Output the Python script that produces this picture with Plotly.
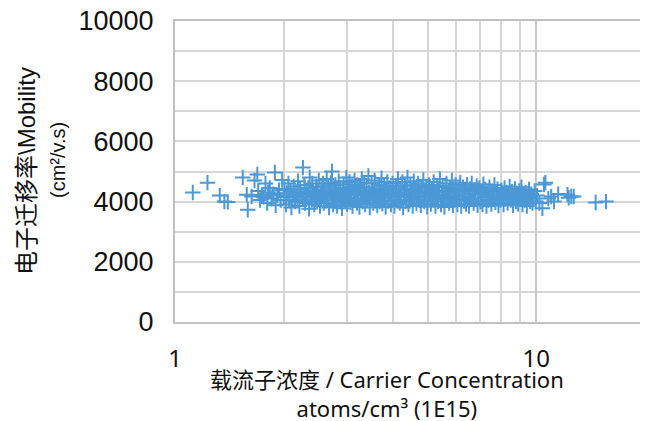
import plotly.graph_objects as go

# Carrier concentration (x 1E15 atoms/cm^3) and electron mobility (cm^2/V.s)
conc = [
    1.12, 1.23, 1.33, 1.37, 1.40, 1.54, 1.58, 1.59, 1.63, 1.66, 1.69, 1.70, 1.72, 1.74, 1.76, 1.78, 1.80, 1.81,
    1.83, 1.85, 1.87, 1.89, 1.90, 1.92, 1.94, 1.96, 1.98,
    2.00, 2.01, 2.03, 2.04, 2.06, 2.07, 2.09, 2.10, 2.12, 2.13, 2.15, 2.16, 2.18, 2.19, 2.21, 2.22, 2.24, 2.26,
    2.26, 2.28, 2.29, 2.31, 2.32, 2.34, 2.35, 2.36, 2.37, 2.39, 2.40, 2.41, 2.43, 2.44, 2.46, 2.47, 2.48, 2.50,
    2.51, 2.52, 2.54, 2.55, 2.57, 2.58, 2.60, 2.61, 2.63, 2.64, 2.66, 2.67, 2.69, 2.70, 2.72, 2.72, 2.74, 2.75,
    2.77, 2.78, 2.80, 2.81, 2.83, 2.84, 2.86, 2.87, 2.89, 2.90, 2.92, 2.93, 2.95, 2.96, 2.98, 2.99, 3.01, 3.03,
    3.04, 3.06, 3.07, 3.09, 3.10, 3.12, 3.14, 3.15, 3.17, 3.19,
    3.20, 3.22, 3.24, 3.25, 3.27, 3.29, 3.30, 3.32, 3.34, 3.36, 3.37, 3.39, 3.41, 3.43, 3.44, 3.46, 3.48, 3.50,
    3.52, 3.54, 3.55, 3.57, 3.59, 3.61, 3.63, 3.65, 3.67, 3.69, 3.71, 3.73, 3.75, 3.77, 3.79, 3.81, 3.83, 3.85,
    3.87, 3.89, 3.91, 3.93, 3.96, 3.98,
    4.00, 4.02, 4.05, 4.07, 4.09, 4.12, 4.14, 4.16, 4.19, 4.21, 4.23, 4.26, 4.28, 4.30, 4.33, 4.35, 4.38, 4.40,
    4.43, 4.45, 4.48, 4.50, 4.53, 4.55, 4.58, 4.60, 4.63, 4.66, 4.68, 4.71, 4.74, 4.76, 4.79, 4.82, 4.85, 4.87,
    4.90, 4.93, 4.96, 4.99,
    5.02, 5.05, 5.08, 5.11, 5.14, 5.17, 5.20, 5.23, 5.26, 5.29, 5.32, 5.35, 5.38, 5.41, 5.45, 5.48, 5.51, 5.54,
    5.57, 5.61, 5.64, 5.67, 5.71, 5.74, 5.77, 5.81, 5.84, 5.88, 5.91, 5.95, 5.98, 6.02, 6.05, 6.09, 6.13, 6.16,
    6.20, 6.24, 6.27,
    6.31, 6.35, 6.39, 6.43, 6.47, 6.51, 6.55, 6.59, 6.63, 6.67, 6.71, 6.75, 6.79, 6.84, 6.88, 6.92, 6.96, 7.01,
    7.05, 7.10, 7.14, 7.19, 7.23, 7.28, 7.32, 7.37, 7.42, 7.46, 7.51, 7.56, 7.61, 7.66, 7.71, 7.76, 7.81, 7.86,
    7.91, 7.96,
    8.01, 8.06, 8.12, 8.17, 8.22, 8.28, 8.33, 8.39, 8.44, 8.50, 8.56, 8.62, 8.67, 8.73, 8.79, 8.85, 8.91, 8.97,
    9.03, 9.10, 9.16, 9.22, 9.29, 9.35, 9.42, 9.48, 9.55, 9.62, 9.69, 9.76, 9.83, 9.90, 9.97,
    10.05, 10.2, 10.4, 10.5, 10.6, 10.8, 11.0, 11.2, 11.5, 12.2, 12.3, 12.5, 12.7, 14.6, 15.6,
]

mobility = [
    4300, 4630, 4200, 4000, 3990, 4800, 4230, 3730, 4170, 4700, 4900, 4350, 4050, 4220, 4150, 4600, 3950, 4300,
    4450, 4100, 4250, 4970, 3880, 4200, 4380, 4050, 4720,
    4150, 4420, 3900, 4280, 4600, 4050, 4350, 3800, 4200, 4500, 4000, 4320, 4150, 4680, 3850, 4400, 4250, 5130,
    4080, 4550, 3950, 4300, 4150, 4450, 3760, 4800, 4230, 4050, 4600, 4350, 3900, 4180, 4500, 4000, 4300, 4700,
    4100, 3850, 4400, 4220, 4600, 3950, 4330, 4150, 4750, 4050, 4480, 3800, 4270, 4620, 5000, 4180, 3900, 4400,
    4080, 4550, 4300, 3850, 4200, 4680, 4000, 4450, 4150, 3780, 4350, 4580, 4050, 4250, 4800, 3920, 4400, 4130,
    4650, 3980, 4300, 4500, 3850, 4220, 4700, 4080, 4380, 3950,
    4550, 4250, 3820, 4450, 4100, 4750, 4000, 4330, 4600, 3900, 4200, 4480, 4050, 4850, 4300, 3800, 4150, 4620,
    4380, 3950, 4250, 4700, 4080, 4420, 3870, 4180, 4560, 4000, 4320, 4780, 3930, 4230, 4500, 4100, 3820, 4380,
    4650, 4020, 4280, 4450, 3900, 4170,
    4600, 4350, 3850, 4200, 4520, 4050, 4750, 4300, 3950, 4430, 4150, 4650, 3800, 4250, 4500, 4020, 4380, 4800,
    3900, 4200, 4560, 4080, 4330, 3850, 4680, 4150, 4420, 3950, 4270, 4600, 4050, 4350, 3880, 4500, 4200, 4720,
    4000, 4300, 4450, 3830,
    4150, 4550, 4250, 3920, 4400, 4080, 4650, 4300, 3850, 4180, 4480, 4000, 4350, 4750, 3900, 4220, 4520, 4100,
    3820, 4380, 4600, 4050, 4280, 3950, 4450, 4150, 4700, 3880, 4330, 4050, 4550, 4200, 3900, 4400, 4100, 4630,
    3850, 4270, 4480,
    4020, 4350, 3920, 4550, 4180, 3850, 4420, 4080, 4600, 4250, 3950, 4380, 4120, 4520, 3880, 4230, 4450, 4000,
    4320, 3900, 4580, 4150, 4400, 3850, 4260, 4050, 4480, 4180, 3920, 4350, 4100, 4550, 3980, 4280, 4420, 3870,
    4200, 4050,
    4380, 4150, 3900, 4450, 4100, 4300, 3950, 4220, 4500, 4050, 4330, 3880, 4180, 4420, 4000, 4250, 3930, 4350,
    4100, 4480, 3900, 4200, 4050, 4300, 3850, 4150, 4400, 4000, 4250, 3950, 4100, 4350, 4000,
    4200, 3950, 3780, 4570, 4630, 4100, 4170, 4000, 4250, 4230, 4130, 4170, 4170, 3970, 4000,
]

x_tick_vals = [1, 10]
x_tick_text = ["1", "10"]
x_minor_vals = [2, 3, 4, 5, 6, 7, 8, 9]
y_tick_vals = [0, 2000, 4000, 6000, 8000, 10000]
y_tick_text = ["0", "2000", "4000", "6000", "8000", "10000"]

blue = "#4a98d5"
grid = "#d6d6d6"

fig = go.Figure(
    go.Scatter(
        x=conc, y=mobility, mode="markers",
        marker=dict(symbol="cross-thin", size=11, color=blue, line=dict(color=blue, width=2)),
        showlegend=False,
    )
)

# page body has an 8px margin, so the figure is sized 640x413 to fill the 648x421 window
fig.update_layout(
    width=640, height=413,
    margin=dict(l=167, r=3, t=13, b=99),
    paper_bgcolor="white", plot_bgcolor="white",
    xaxis=dict(
        type="log", range=[0, 1.30103], automargin=False,
        tickvals=x_tick_vals, ticktext=x_tick_text,
        showgrid=True, gridcolor="#c8c8c8", gridwidth=1.5,
        minor=dict(tickvals=x_minor_vals, showgrid=True, gridcolor=grid, gridwidth=1.5, ticks=""),
        showline=True, mirror=True, linecolor="#c0c0c0", linewidth=2,
        ticks="", ticklabelstandoff=14, ticklabeloverflow="allow",
        tickfont=dict(family="Noto Sans", size=24, color="#111111"),
        zeroline=False,
    ),
    yaxis=dict(
        range=[0, 10000], tickvals=y_tick_vals, ticktext=y_tick_text, automargin=False,
        showgrid=True, gridcolor=grid, gridwidth=1.5,
        minor=dict(dtick=1000, showgrid=True, gridcolor=grid, gridwidth=1.5, ticks=""),
        showline=True, mirror=True, linecolor="#c0c0c0", linewidth=2,
        ticks="", ticklabelstandoff=14, ticklabeloverflow="allow",
        tickfont=dict(family="Liberation Sans, Arial", size=27, color="#111111"),
        zeroline=False,
    ),
    annotations=[
        dict(
            text="载流子浓度 / Carrier Concentration<br>atoms/cm³ (1E15)",
            xref="paper", yref="paper", x=(387 - 175) / 470, y=(322 - 393) / 301,
            xanchor="center", yanchor="middle", showarrow=False,
            font=dict(family="Noto Sans, Noto Sans CJK SC", size=22, color="#111111"),
        ),
        dict(
            text="电子迁移率\\Mobility",
            xref="paper", yref="paper", x=(26 - 175) / 470, y=(322 - 171) / 301,
            xanchor="center", yanchor="middle", textangle=-90, showarrow=False,
            font=dict(family="Liberation Sans, Noto Sans CJK SC", size=24, color="#111111"),
        ),
        dict(
            text="(cm²/v.s)",
            xref="paper", yref="paper", x=(58 - 175) / 470, y=(322 - 160) / 301,
            xanchor="center", yanchor="middle", textangle=-90, showarrow=False,
            font=dict(family="Liberation Sans, Noto Sans CJK SC", size=20, color="#111111"),
        ),
    ],
)

fig.write_html("out.html")
